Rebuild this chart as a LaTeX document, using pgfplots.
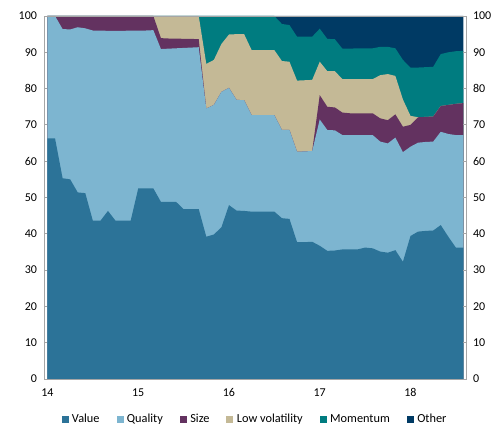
\documentclass[border=0pt]{standalone}
\usepackage{pgfplots}
\pgfplotsset{compat=1.18}
\usepackage{pgfplotstable}
\usepackage{fontspec}
\setmainfont{Carlito}

\definecolor{cValue}{HTML}{2C7398}
\definecolor{cQuality}{HTML}{7DB5D0}
\definecolor{cSize}{HTML}{633260}
\definecolor{cLow}{HTML}{C4B996}
\definecolor{cMom}{HTML}{007C80}
\definecolor{cOther}{HTML}{003A64}
\definecolor{axgray}{HTML}{A6A6A6}

% cumulative boundaries (top of each band), monthly from Jan 2014
\pgfplotstableread{
i V Q S L M O
0 66.3 100 100 100 100 100
1 66.3 100 100 100 100 100
2 55.3 96.4 100 100 100 100
3 55.0 96.3 100 100 100 100
4 51.4 96.9 100 100 100 100
5 51.2 96.6 100 100 100 100
6 43.6 96.0 100 100 100 100
7 43.6 96.0 100 100 100 100
8 46.3 95.9 100 100 100 100
9 43.6 95.9 100 100 100 100
10 43.6 95.9 100 100 100 100
11 43.6 96.0 100 100 100 100
12 52.5 96.0 100 100 100 100
13 52.5 96.0 100 100 100 100
14 52.5 96.1 100 100 100 100
15 48.8 90.9 93.9 100 100 100
16 48.8 91.0 93.8 100 100 100
17 48.8 91.1 93.8 100 100 100
18 46.8 91.2 93.7 100 100 100
19 46.8 91.3 93.7 100 100 100
20 46.8 91.4 93.6 100 100 100
21 39.2 74.5 74.5 86.8 100 100
22 39.8 75.5 75.5 87.9 100 100
23 41.8 79.1 79.1 92.3 100 100
24 47.9 80.2 80.2 94.9 100 100
25 46.4 76.9 76.9 95.0 100 100
26 46.3 76.8 76.8 95.0 100 100
27 46.1 72.7 72.7 90.6 100 100
28 46.1 72.7 72.7 90.6 100 100
29 46.1 72.7 72.7 90.6 100 100
30 46.1 72.7 72.7 90.6 100 100
31 44.3 68.6 68.6 87.6 97.8 100
32 44.1 68.6 68.6 87.4 97.5 100
33 37.7 62.6 62.6 82.2 94.3 100
34 37.7 62.7 62.7 82.3 94.3 100
35 37.8 62.8 62.8 82.4 94.3 100
36 36.7 71.5 78.2 87.4 96.5 100
37 35.3 68.6 75.0 84.8 93.7 100
38 35.4 68.5 74.8 84.8 93.6 100
39 35.7 67.2 73.4 82.6 91.0 100
40 35.7 67.2 73.2 82.6 91.0 100
41 35.7 67.2 73.2 82.6 91.1 100
42 36.2 67.2 73.2 82.6 91.1 100
43 36.0 67.2 73.2 82.6 91.1 100
44 35.1 65.4 71.8 83.7 91.5 100
45 34.8 64.9 71.3 84.0 91.5 100
46 35.5 66.5 72.9 83.5 91.1 100
47 32.3 62.5 69.5 77.0 87.9 100
48 39.4 64.0 70.0 72.5 85.8 100
49 40.6 65.1 72.1 72.1 85.8 100
50 40.8 65.3 72.2 72.2 85.9 100
51 40.9 65.4 72.3 72.3 86.0 100
52 42.4 68.1 75.2 75.2 89.5 100
53 39.2 67.5 75.5 75.5 90.0 100
54 36.2 67.2 75.8 75.8 90.3 100
55 36.2 67.2 76.0 76.0 90.4 100
}\data

\begin{document}
\begin{tikzpicture}
\begin{axis}[
  scale only axis, width=422pt, height=363pt,
  xmin=-0.46, xmax=55.34, ymin=0, ymax=100,
  axis on top,
  axis line style={draw=axgray, line width=0.8pt},
  xtick={0,12,24,36,48}, xticklabels={14,15,16,17,18},
  ytick={0,10,...,100},
  ytick pos=left,
  x tick style={draw=none},
  y tick style={draw=axgray, line width=0.8pt},
  tick align=inside, major tick length=3.5pt,
  tick label style={font=\fontsize{12}{14}\selectfont, text=black},
  xticklabel style={yshift=-6pt},
  yticklabel style={xshift=-3.5pt},
  /pgf/number format/assume math mode=true,
  legend columns=6,
  legend cell align=left,
  legend image code/.code={\fill[#1] (0pt,-3pt) rectangle (6pt,3pt); \path (8pt,0pt);},
  legend style={at={(0.5,0)}, anchor=center, yshift=-40pt, draw=none,
    font=\fontsize{12.3}{14}\selectfont,
    /tikz/every even column/.append style={column sep=15pt}},
]
\addplot[fill=cOther, draw=none, forget plot] table[x=i, y=O]{\data} \closedcycle;
\addplot[fill=cMom, draw=none, forget plot] table[x=i, y=M]{\data} \closedcycle;
\addplot[fill=cLow, draw=none, forget plot] table[x=i, y=L]{\data} \closedcycle;
\addplot[fill=cSize, draw=none, forget plot] table[x=i, y=S]{\data} \closedcycle;
\addplot[fill=cQuality, draw=none, forget plot] table[x=i, y=Q]{\data} \closedcycle;
\addplot[fill=cValue, draw=none, forget plot] table[x=i, y=V]{\data} \closedcycle;
\addlegendimage{cValue}\addlegendentry{Value}
\addlegendimage{cQuality}\addlegendentry{Quality}
\addlegendimage{cSize}\addlegendentry{Size}
\addlegendimage{cLow}\addlegendentry{Low volatility}
\addlegendimage{cMom}\addlegendentry{Momentum}
\addlegendimage{cOther}\addlegendentry{Other}
\end{axis}
\begin{axis}[
  scale only axis, width=422pt, height=363pt,
  xmin=-0.46, xmax=55.34, ymin=0, ymax=100,
  axis x line=none, axis y line*=right,
  axis line style={draw=axgray, line width=0.8pt},
  ytick={0,10,...,100},
  y tick style={draw=axgray, line width=0.8pt},
  tick align=inside, major tick length=3.5pt,
  tick label style={font=\fontsize{12}{14}\selectfont, text=black},
  yticklabel style={xshift=3.5pt},
  /pgf/number format/assume math mode=true,
]
\end{axis}
\path ([xshift=-44pt,yshift=-47pt]current axis.south west) rectangle ([xshift=35pt,yshift=16pt]current axis.north east);
\end{tikzpicture}
\end{document}
